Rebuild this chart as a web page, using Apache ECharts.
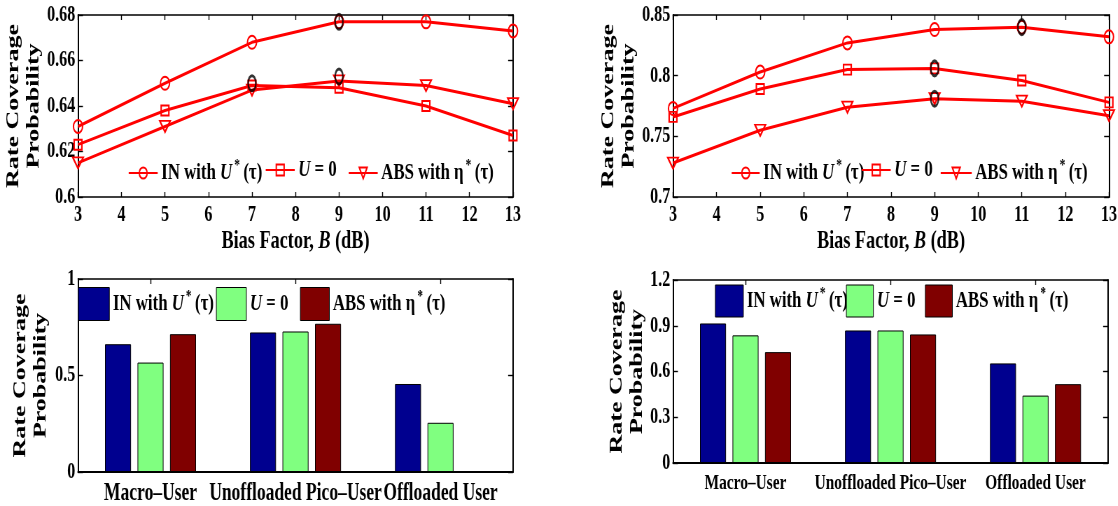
<!DOCTYPE html>
<html><head><meta charset="utf-8">
<script src="https://cdn.jsdelivr.net/npm/echarts@6/dist/echarts.min.js"></script>
<style>
html,body{margin:0;padding:0;background:#fff;overflow:hidden;width:1118px;height:506px}
#wrap{width:1118px;height:506px;overflow:hidden;position:relative;background:#fff}
#chart{position:absolute;left:0;top:0;height:506px;transform-origin:0 0}
</style></head><body><div id="wrap"><div id="chart"></div></div>
<script>
// ---------------- data ----------------
const biasDb = [3, 5, 7, 9, 11, 13];
const seriesNames = ['IN with U*(τ)', 'U = 0', 'ABS with η*(τ)'];
// top-left
const tlIN  = [0.631, 0.650, 0.668, 0.677, 0.677, 0.673];
const tlU0  = [0.623, 0.638, 0.649, 0.648, 0.640, 0.627];
const tlABS = [0.615, 0.631, 0.647, 0.651, 0.649, 0.641];
const tlOptimal = [[7, 0.650], [9, 0.653], [9, 0.677]];
// top-right
const trIN  = [0.773, 0.803, 0.827, 0.838, 0.840, 0.832];
const trU0  = [0.766, 0.789, 0.805, 0.806, 0.796, 0.778];
const trABS = [0.728, 0.755, 0.774, 0.781, 0.779, 0.767];
const trOptimal = [[9, 0.806], [9, 0.781], [11, 0.840]];
// bottom bars
const userTypes = ['Macro\u2013User', 'Unoffloaded Pico\u2013User', 'Offloaded User'];
const blIN  = [0.662, 0.723, 0.456];
const blU0  = [0.567, 0.728, 0.255];
const blABS = [0.714, 0.768, 0.002];
const brIN  = [0.915, 0.869, 0.653];
const brU0  = [0.837, 0.869, 0.442];
const brABS = [0.727, 0.843, 0.517];
// axis ranges / ticks
const tlY = {min: 0.6, max: 0.68, interval: 0.02};
const trY = {min: 0.7, max: 0.85, interval: 0.05};
const blY = {min: 0, max: 1, interval: 0.5};
const brY = {min: 0, max: 1.2, interval: 0.3};
const biasX = {min: 3, max: 13, interval: 1};

// ---------------- layout ----------------
const S = 0.7;                 // horizontal squeeze of the original figure
const X = px => px / S;        // original px -> pre-squeeze px
const W = 1118 / S;
const el = document.getElementById('chart');
el.style.width = W + 'px';
el.style.transform = 'scaleX(' + S + ')';

const FONT = '"Liberation Serif","Times New Roman",Times,serif';
const RED = '#ff0000';
const BAR_COLORS = ['#00008f', '#80ff80', '#800000'];

const tickFont = {fontFamily: FONT, fontWeight: 'bold', fontSize: 23, color: '#000'};
const lineCol = {color: '#000', width: 1.5};

function xValue(gi, r, name) {
  return [
    {type: 'value', gridIndex: gi, min: r.min, max: r.max, interval: r.interval, position: 'bottom',
     axisLine: {show: true, onZero: false, lineStyle: lineCol},
     axisTick: {show: true, inside: true, length: 5, lineStyle: {color: '#000', width: 1.4}},
     axisLabel: Object.assign({margin: 7}, tickFont), splitLine: {show: false},
     name: name, nameLocation: 'middle', nameGap: 29,
     nameTextStyle: {fontFamily: FONT, fontWeight: 'bold', fontSize: 26, color: '#000',
       rich: {n: {fontFamily: FONT, fontWeight: 'bold', fontSize: 26, color: '#000'},
              i: {fontFamily: FONT, fontWeight: 'bold', fontStyle: 'italic', fontSize: 26, color: '#000'}}}},
    {type: 'value', gridIndex: gi, min: r.min, max: r.max, interval: r.interval, position: 'top',
     axisLine: {show: true, onZero: false, lineStyle: lineCol},
     axisTick: {show: true, inside: true, length: 5, lineStyle: {color: '#000', width: 1.4}},
     axisLabel: {show: false}, splitLine: {show: false}}
  ];
}
function xCat(gi, fs) {
  return [
    {type: 'category', gridIndex: gi, data: userTypes, position: 'bottom',
     axisLine: {show: true, onZero: false, lineStyle: {color: '#000', width: 2}},
     axisTick: {show: true, inside: true, alignWithLabel: true, length: 5, lineStyle: {color: '#000', width: 1.4}},
     axisLabel: Object.assign({}, tickFont, {fontSize: fs, margin: 9, interval: 0, hideOverlap: false}),
     splitLine: {show: false}},
    {type: 'category', gridIndex: gi, data: userTypes, position: 'top',
     axisLine: {show: true, onZero: false, lineStyle: lineCol},
     axisTick: {show: true, inside: true, alignWithLabel: true, length: 5, lineStyle: {color: '#000', width: 1.4}},
     axisLabel: {show: false}, splitLine: {show: false}}
  ];
}
function yValue(gi, r, gap) {
  return [
    {type: 'value', gridIndex: gi, min: r.min, max: r.max, interval: r.interval, position: 'left',
     axisLine: {show: true, onZero: false, lineStyle: {color: '#000', width: 2}},
     axisTick: {show: true, inside: true, length: 7, lineStyle: {color: '#000', width: 1.4}},
     axisLabel: Object.assign({margin: 4}, tickFont), splitLine: {show: false},
     name: 'Rate Coverage\nProbability', nameLocation: 'middle', nameRotate: 90, nameGap: gap,
     nameTextStyle: {fontFamily: FONT, fontWeight: 'bold', fontSize: 26, lineHeight: 29, color: '#000'}},
    {type: 'value', gridIndex: gi, min: r.min, max: r.max, interval: r.interval, position: 'right',
     axisLine: {show: true, onZero: false, lineStyle: {color: '#000', width: 2}},
     axisTick: {show: true, inside: true, length: 7, lineStyle: {color: '#000', width: 1.4}},
     axisLabel: {show: false}, splitLine: {show: false}}
  ];
}

const biasName = '{n|Bias Factor, }{i|B}{n| (dB)}';
const grids = [
  {left: X(78),  top: 15,  width: X(435), height: 182, outerBoundsMode: 'none'},
  {left: X(673), top: 15,  width: X(436), height: 182, outerBoundsMode: 'none'},
  {left: X(78),  top: 279, width: X(435), height: 193, outerBoundsMode: 'none'},
  {left: X(673), top: 280, width: X(435), height: 183, outerBoundsMode: 'none'}
];
const xAxes = [].concat(xValue(0, biasX, biasName), xValue(1, biasX, biasName), xCat(2, 25), xCat(3, 22));
const yAxes = [].concat(yValue(0, tlY, 44), yValue(1, trY, 39), yValue(2, blY, 39), yValue(3, brY, 29));

const BAR_SUFFIX = ' (bars)';
const richLabel = {
  'IN with U*(τ)': '{t|IN with }{i|U}{s|*}{t|(τ)}',
  'U = 0': '{i|U}{t| = 0}',
  'ABS with η*(τ)': '{t|ABS with η}{s|*}{t|(τ)}'
};
const legendText = {
  fontFamily: FONT, fontWeight: 'bold', fontSize: 24, color: '#000',
  rich: {
    t: {fontFamily: FONT, fontWeight: 'bold', fontSize: 24, lineHeight: 30, color: '#000'},
    i: {fontFamily: FONT, fontWeight: 'bold', fontStyle: 'italic', fontSize: 24, lineHeight: 30, color: '#000'},
    s: {fontFamily: FONT, fontWeight: 'bold', fontSize: 16, lineHeight: 14, verticalAlign: 'top', padding: [0, 5, 0, 3], color: '#000'}
  }
};
function legendItem(name, leftPx, top, w, h, icon) {
  const o = {left: X(leftPx), top: top, itemWidth: X(w), itemHeight: h, itemGap: 0, padding: 0,
          selectedMode: false, textStyle: legendText,
          formatter: n => richLabel[n.replace(BAR_SUFFIX, '')] || n};
  if (icon) {
    o.icon = icon;
    o.itemStyle = {borderColor: '#000', borderWidth: 1, borderRadius: 0};
    o.data = [{name: name, icon: icon}];
  } else {
    o.data = [name];
  }
  return o;
}
const legends = [
  legendItem(seriesNames[0], 128, 158, 29, 14),
  legendItem(seriesNames[1], 265, 158, 29, 14),
  legendItem(seriesNames[2], 348, 158, 29, 14),
  legendItem(seriesNames[0], 731, 158, 28, 14),
  legendItem(seriesNames[1], 861, 158, 29, 14),
  legendItem(seriesNames[2], 940, 158, 31, 14),
  legendItem(seriesNames[0] + BAR_SUFFIX, 78, 287, 31, 33, 'rect'),
  legendItem(seriesNames[1] + BAR_SUFFIX, 216, 287, 30, 33, 'rect'),
  legendItem(seriesNames[2] + BAR_SUFFIX, 300, 287, 29, 33, 'rect'),
  legendItem(seriesNames[0] + BAR_SUFFIX, 715, 284.5, 28, 32, 'rect'),
  legendItem(seriesNames[1] + BAR_SUFFIX, 846, 284.5, 27, 32, 'rect'),
  legendItem(seriesNames[2] + BAR_SUFFIX, 925, 284.5, 27, 32, 'rect')
];

const markers = [
  {symbol: 'circle', symbolSize: [13, 13], symbolRotate: 0},
  {symbol: 'rect', symbolSize: [11, 10], symbolRotate: 0},
  {symbol: 'triangle', symbolSize: [15, 11], symbolRotate: 180}
];
function lineSeries(gi, idx, values) {
  return {
    type: 'line', name: seriesNames[idx], xAxisIndex: gi * 2, yAxisIndex: gi * 2,
    data: biasDb.map((b, k) => [b, values[k]]),
    symbol: markers[idx].symbol, symbolSize: markers[idx].symbolSize, symbolRotate: markers[idx].symbolRotate,
    showAllSymbol: true, animation: false,
    lineStyle: {color: RED, width: 3},
    itemStyle: {color: 'rgba(255,255,255,0)', borderColor: RED, borderWidth: 2},
    emphasis: {disabled: true}, z: 3
  };
}
function optimalSeries(gi, pts) {
  return {type: 'scatter', name: 'optimal', xAxisIndex: gi * 2, yAxisIndex: gi * 2, data: pts,
    symbol: 'circle', symbolSize: [11, 15], animation: false,
    itemStyle: {color: 'rgba(255,255,255,0)', borderColor: '#000', borderWidth: 2.6}, z: 5,
    emphasis: {disabled: true}};
}
function barSeries(gi, idx, values) {
  return {type: 'bar', name: seriesNames[idx] + BAR_SUFFIX, xAxisIndex: gi * 2, yAxisIndex: gi * 2,
    data: values, barWidth: X(26), barGap: '25%', animation: false,
    itemStyle: {color: BAR_COLORS[idx], borderColor: '#000', borderWidth: 1},
    emphasis: {disabled: true}};
}

const series = [
  lineSeries(0, 0, tlIN), lineSeries(0, 1, tlU0), lineSeries(0, 2, tlABS), optimalSeries(0, tlOptimal),
  lineSeries(1, 0, trIN), lineSeries(1, 1, trU0), lineSeries(1, 2, trABS), optimalSeries(1, trOptimal),
  barSeries(2, 0, blIN), barSeries(2, 1, blU0), barSeries(2, 2, blABS),
  barSeries(3, 0, brIN), barSeries(3, 1, brU0), barSeries(3, 2, brABS)
];

const chart = echarts.init(el, null, {renderer: 'canvas', width: W, height: 506});
chart.setOption({
  backgroundColor: '#fff',
  animation: false,
  textStyle: {fontFamily: FONT},
  grid: grids, xAxis: xAxes, yAxis: yAxes, legend: legends, series: series
});
</script></body></html>
